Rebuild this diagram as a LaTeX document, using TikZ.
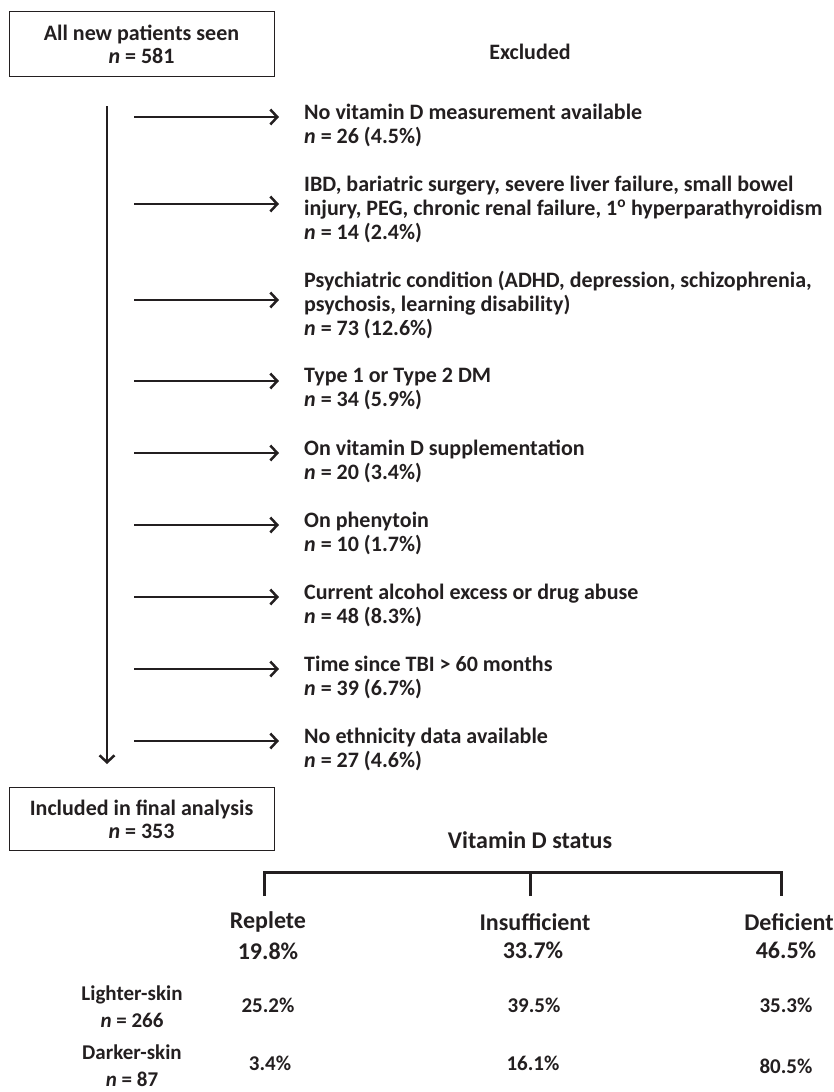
\documentclass[tikz,border=0pt]{standalone}
\usepackage{fontspec}
\setmainfont{Carlito}
\usetikzlibrary{arrows.meta}
\definecolor{ink}{HTML}{231F20}
\begin{document}
\begin{tikzpicture}[x=1pt,y=-1pt,
  box/.style={draw=ink, line width=1pt, minimum width=265pt, minimum height=65pt, align=center, inner sep=0pt, text=ink, font=\bfseries\fontsize{22}{23}\selectfont},
  item/.style={anchor=west, align=left, inner sep=0pt, text=ink, font=\bfseries\fontsize{22}{24}\selectfont},
  arr/.style={draw=ink, line width=2.5pt, -{Straight Barb[length=7pt,width=15pt]}},
  bracket/.style={draw=ink, line width=3pt},
  cat/.style={text=ink, inner sep=0pt, font=\bfseries\fontsize{24}{26}\selectfont},
  pct/.style={text=ink, inner sep=0pt, font=\bfseries\fontsize{21}{27}\selectfont, align=center}
]
\useasboundingbox (0,0) rectangle (833,1092);

\node[box] (all) at (141.5,44) {All new patients seen\\\textit{n} = 581};
\node[text=ink, inner sep=0pt, font=\bfseries\fontsize{22}{24}\selectfont] (excl) at (530,52) {Excluded};

\coordinate (vs) at (107,106);
\coordinate (ve) at (107,764);
\draw[arr] (vs) -- (ve);

\node[item] (i1) at (304,125) {No vitamin D measurement available\\\textit{n} = 26 (4.5\%)};
\node[item] (i2) at (304,209) {IBD, bariatric surgery, severe liver failure, small bowel\\injury, PEG, chronic renal failure, 1\textsuperscript{o} hyperparathyroidism\\\textit{n} = 14 (2.4\%)};
\node[item] (i3) at (304,305) {Psychiatric condition (ADHD, depression, schizophrenia,\\psychosis, learning disability)\\\textit{n} = 73 (12.6\%)};
\node[item] (i4) at (304,389) {Type 1 or Type 2 DM\\\textit{n} = 34 (5.9\%)};
\node[item] (i5) at (304,461) {On vitamin D supplementation\\\textit{n} = 20 (3.4\%)};
\node[item] (i6) at (304,533) {On phenytoin\\\textit{n} = 10 (1.7\%)};
\node[item] (i7) at (304,605) {Current alcohol excess or drug abuse\\\textit{n} = 48 (8.3\%)};
\node[item] (i8) at (304,677) {Time since TBI > 60 months\\\textit{n} = 39 (6.7\%)};
\node[item] (i9) at (304,749) {No ethnicity data available\\\textit{n} = 27 (4.6\%)};

\foreach \k/\y in {1/117,2/204,3/300,4/381,5/453,6/525,7/597,8/669,9/741}{
  \coordinate (s\k) at (134,\y);
  \coordinate (e\k) at (279,\y);
  \draw[arr] (s\k) -- (e\k);
}

\node[box, minimum height=63pt] (incl) at (141.5,819) {Included in final analysis\\\textit{n} = 353};

\node[cat] (vds) at (530,840) {Vitamin D status};

\coordinate (bl) at (264,896);
\coordinate (bm) at (530,896);
\coordinate (br) at (781,896);
\coordinate (blt) at (264,872);
\coordinate (bmt) at (530,872);
\coordinate (brt) at (781,872);
\draw[bracket] (bl) -- (blt) -- (brt) -- (br);
\draw[bracket] (bm) -- (bmt);

\node[cat] (rep) at (268,922) {Replete};
\node[cat] (ins) at (535,922) {Insufficient};
\node[cat] (def) at (789,922) {Deficient};
\node[cat] (rep2) at (268,951) {19.8\%};
\node[cat] (ins2) at (533,950) {33.7\%};
\node[cat] (def2) at (786,950) {46.5\%};

\node[pct] (light) at (132,1007) {Lighter-skin\\\textit{n} = 266};
\node[pct] (dark) at (132,1066) {Darker-skin\\\textit{n} = 87};
\node[pct] (l1) at (268,1005) {25.2\%};
\node[pct] (l2) at (534,1005) {39.5\%};
\node[pct] (l3) at (786,1005) {35.3\%};
\node[pct] (d1) at (270,1063) {3.4\%};
\node[pct] (d2) at (533,1063) {16.1\%};
\node[pct] (d3) at (786,1066) {80.5\%};
\end{tikzpicture}
\end{document}
